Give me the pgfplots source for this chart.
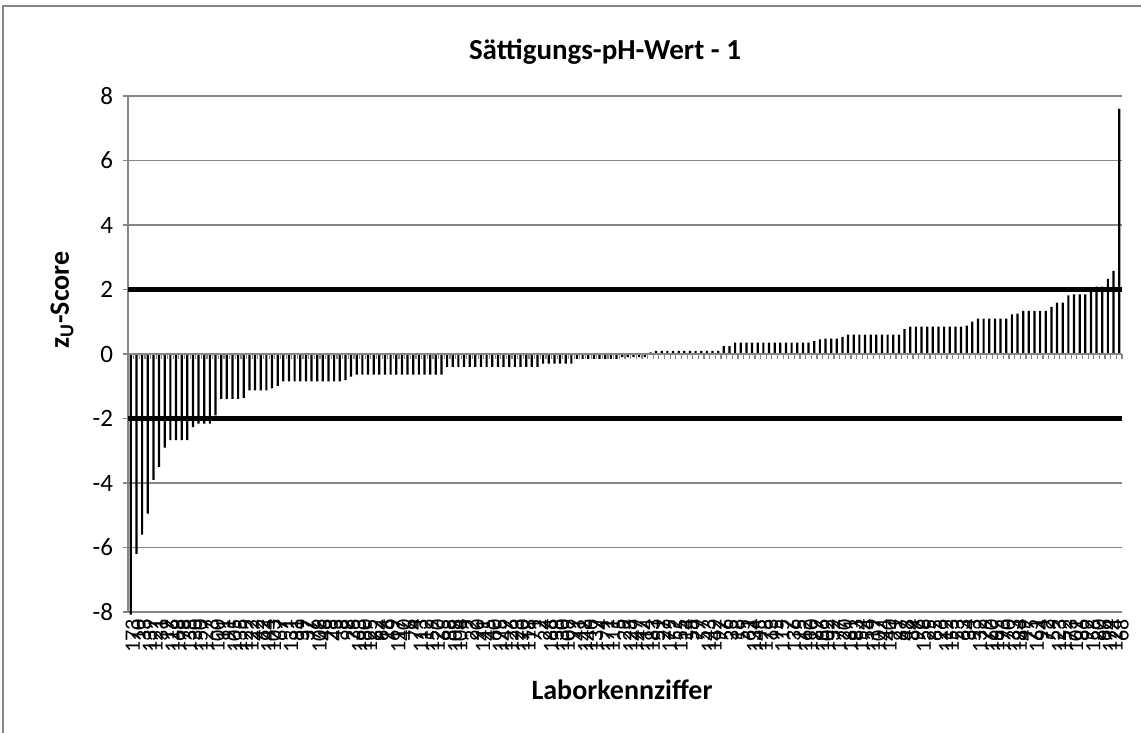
\documentclass[border=0pt]{standalone}
\usepackage{fontspec}
\setmainfont{Carlito}
\usepackage{pgfplots}
\pgfplotsset{compat=1.18}
\definecolor{xlgray}{RGB}{134,134,134}

% z_U-scores, sorted, one bar per lab
\pgfplotstableread{
x y
0 -8.08
1 -6.2
2 -5.6
3 -4.95
4 -3.9
5 -3.5
6 -2.9
7 -2.67
8 -2.67
9 -2.67
10 -2.67
11 -2.27
12 -2.16
13 -2.16
14 -2.16
15 -1.9
16 -1.39
17 -1.39
18 -1.39
19 -1.39
20 -1.36
21 -1.13
22 -1.13
23 -1.13
24 -1.13
25 -1.07
26 -0.99
27 -0.85
28 -0.85
29 -0.85
30 -0.85
31 -0.85
32 -0.85
33 -0.85
34 -0.85
35 -0.85
36 -0.85
37 -0.85
38 -0.81
39 -0.70
40 -0.64
41 -0.64
42 -0.64
43 -0.64
44 -0.64
45 -0.64
46 -0.64
47 -0.64
48 -0.64
49 -0.64
50 -0.64
51 -0.64
52 -0.64
53 -0.64
54 -0.64
55 -0.64
56 -0.40
57 -0.40
58 -0.40
59 -0.40
60 -0.40
61 -0.40
62 -0.40
63 -0.40
64 -0.40
65 -0.40
66 -0.40
67 -0.40
68 -0.40
69 -0.40
70 -0.40
71 -0.40
72 -0.40
73 -0.30
74 -0.30
75 -0.30
76 -0.30
77 -0.30
78 -0.30
79 -0.15
80 -0.15
81 -0.15
82 -0.15
83 -0.15
84 -0.15
85 -0.15
86 -0.15
87 -0.10
88 -0.10
89 -0.10
90 -0.10
91 -0.10
92 0.05
93 0.10
94 0.10
95 0.10
96 0.10
97 0.10
98 0.10
99 0.10
100 0.10
101 0.10
102 0.10
103 0.10
104 0.10
105 0.24
106 0.24
107 0.35
108 0.35
109 0.35
110 0.35
111 0.35
112 0.35
113 0.35
114 0.35
115 0.35
116 0.35
117 0.35
118 0.35
119 0.35
120 0.35
121 0.40
122 0.45
123 0.48
124 0.48
125 0.48
126 0.53
127 0.60
128 0.60
129 0.60
130 0.60
131 0.60
132 0.60
133 0.60
134 0.60
135 0.60
136 0.60
137 0.77
138 0.85
139 0.85
140 0.85
141 0.85
142 0.85
143 0.85
144 0.85
145 0.85
146 0.85
147 0.85
148 0.88
149 1.00
150 1.10
151 1.10
152 1.10
153 1.10
154 1.10
155 1.10
156 1.23
157 1.25
158 1.34
159 1.34
160 1.34
161 1.34
162 1.34
163 1.46
164 1.59
165 1.59
166 1.82
167 1.85
168 1.85
169 1.85
170 1.92
171 2.09
172 2.09
173 2.33
174 2.58
175 7.60
}\zscores

\begin{document}
\begin{tikzpicture}
\useasboundingbox (0pt,0pt) rectangle (570.5pt,366.5pt);
\draw[xlgray, line width=0.8pt] (1.5pt,-20pt) rectangle (600pt,363.5pt);
\node[font=\bfseries\fontsize{14.5}{17}\selectfont] at (302.5pt,340.5pt) {Sättigungs-pH-Wert - 1};
\node[font=\bfseries\fontsize{14}{17}\selectfont] at (311pt,21.5pt) {Laborkennziffer};
\node[font=\bfseries\fontsize{14}{17}\selectfont, rotate=90] at (31pt,216.5pt) {z\textsubscript{U}-Score};
\begin{axis}[
    at={(64pt,60.5pt)}, anchor=south west,
    scale only axis,
    width=497pt, height=258pt,
    xmin=-0.5, xmax=175.5,
    ymin=-8, ymax=8,
    clip=false,
    axis x line*=bottom, axis y line*=left,
    axis line style={xlgray, line width=0.8pt},
    ytick={-8,-6,...,8},
    ymajorgrids=true,
    grid style={xlgray, line width=0.8pt},
    tick align=outside,
    major tick length=2.5pt,
    ytick style={xlgray, line width=0.8pt},
    xtick style={draw=none},
    xtick={0,...,175},
    xticklabels={173,10,33,139,121,31,19,116,168,78,
      138,30,150,127,3,100,11,91,105,135,
      129,122,42,62,144,103,67,1,131,81,
      39,37,76,106,46,28,43,8,98,36,
      163,180,125,82,64,16,69,117,40,6,
      74,113,12,159,120,65,88,108,104,9,
      22,90,141,45,60,175,149,126,23,170,
      118,71,2,24,186,38,130,109,99,41,
      148,146,137,4,171,111,5,29,128,147,
      47,114,183,51,27,179,52,155,14,58,
      77,57,143,142,97,56,35,18,55,61,
      134,145,178,13,95,115,7,136,15,162,
      110,89,166,102,32,177,20,181,83,154,
      54,119,107,44,140,21,87,48,84,96,
      156,25,85,26,112,153,53,63,34,93,
      132,79,160,165,176,70,133,184,49,75,
      161,94,72,59,123,152,73,101,86,92,
      158,80,66,174,124,68},
    xticklabel style={rotate=90, anchor=east, inner sep=1pt, yshift=-1pt,
      font=\fontsize{11}{12}\selectfont},
    yticklabel style={font=\fontsize{12.5}{14}\selectfont, xshift=-1.5pt},
    /pgf/number format/assume math mode=true,
]
\addplot[ybar, bar width=1.1pt, fill=black, draw=none] table[x=x, y=y] {\zscores};
\draw[xlgray, line width=0.8pt] (axis cs:-0.5,0) -- (axis cs:175.5,0);
\pgfplotsinvokeforeach{0,...,175}{
  \draw[xlgray, line width=0.6pt] (axis cs:#1.5,0) -- ([yshift=-2.5pt]axis cs:#1.5,0);
}
\addplot[black, line width=2.3pt] coordinates {(-0.5,2) (175.5,2)};
\addplot[black, line width=2.3pt] coordinates {(-0.5,-2) (175.5,-2)};
\end{axis}
\end{tikzpicture}
\end{document}
